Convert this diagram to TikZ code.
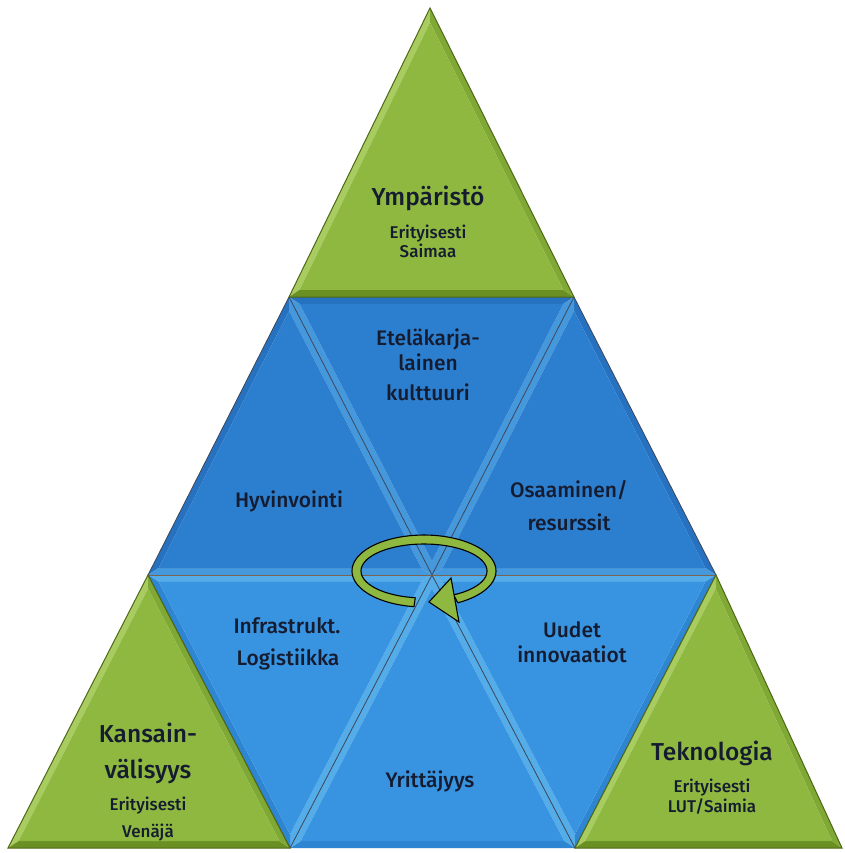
\documentclass[tikz,border=0pt]{standalone}
\usepackage{fontspec}
\setmainfont{Fira Sans}[UprightFont={* Medium}]
\usetikzlibrary{calc}
\definecolor{grn}{RGB}{142,184,64}
\definecolor{grnL}{RGB}{168,204,96}
\definecolor{grnM}{RGB}{128,168,52}
\definecolor{grnD}{RGB}{106,144,36}
\definecolor{grnO}{RGB}{78,104,22}
\definecolor{bluU}{RGB}{44,126,206}
\definecolor{bluUL}{RGB}{70,152,220}
\definecolor{bluUD}{RGB}{38,114,192}
\definecolor{bluL}{RGB}{56,148,224}
\definecolor{bluLL}{RGB}{84,172,232}
\definecolor{bluLD}{RGB}{46,134,210}
\definecolor{txt}{RGB}{22,28,48}
\definecolor{seamc}{RGB}{60,70,90}
\newcommand{\bevf}{0.1}
\newcommand{\bevtri}[7]{%
  \coordinate (bvG) at ($0.3333*(#1)+0.3333*(#2)+0.3334*(#3)$);
  \coordinate (bvA) at ($(#1)!\bevf!(bvG)$);
  \coordinate (bvB) at ($(#2)!\bevf!(bvG)$);
  \coordinate (bvC) at ($(#3)!\bevf!(bvG)$);
  \fill[#5] (#1)--(#2)--(bvB)--(bvA)--cycle;
  \fill[#6] (#2)--(#3)--(bvC)--(bvB)--cycle;
  \fill[#7] (#3)--(#1)--(bvA)--(bvC)--cycle;
  \fill[#4] (bvA)--(bvB)--(bvC)--cycle;
}
\tikzset{
  ttl/.style={text=txt, font=\fontsize{24.5}{26}\selectfont, anchor=base, inner sep=0pt},
  lab/.style={text=txt, font=\fontsize{21}{23}\selectfont, anchor=base, inner sep=0pt},
  sublab/.style={text=txt, font=\fontsize{17}{19}\selectfont, anchor=base, inner sep=0pt},
  seam/.style={draw=seamc, line width=0.8pt},
  gedge/.style={draw=grnO, line width=1pt, line join=miter},
}
\begin{document}
\begin{tikzpicture}[x=1pt,y=-1pt]
\useasboundingbox (0,0) rectangle (844,853);
\fill[white] (0,0) rectangle (844,853);
% key points
\coordinate (gt) at (430,8);
\coordinate (hTL) at (289,297);
\coordinate (hTR) at (574,297);
\coordinate (hL) at (148,575);
\coordinate (hR) at (716,575);
\coordinate (hBL) at (290,848);
\coordinate (hBR) at (575,848);
\coordinate (c) at (432,575);
\coordinate (glB) at (8,848);
\coordinate (grB) at (842,848);
% blue hexagon triangles
\renewcommand{\bevf}{0.075}
\bevtri{hTL}{hTR}{c}{bluU}{bluUD}{bluUL}{bluUL}
\bevtri{hL}{hTL}{c}{bluU}{bluUD}{bluUL}{bluUL}
\bevtri{hTR}{hR}{c}{bluU}{bluUD}{bluUL}{bluUL}
\bevtri{hL}{c}{hBL}{bluL}{bluLL}{bluLL}{bluLD}
\bevtri{c}{hR}{hBR}{bluL}{bluLL}{bluLD}{bluLL}
\bevtri{c}{hBR}{hBL}{bluL}{bluLL}{bluLD}{bluLL}
% seams
\draw[seam] (hTL)--(c) (hTR)--(c) (c)--(hBL) (c)--(hBR);
\draw[draw={rgb,255:red,120;green,100;blue,80}, line width=1pt] (hL)--(hR);
\draw[draw=seamc, line width=0.8pt] (hTL)--(hL)--(hBL) (hTR)--(hR)--(hBR);
% green triangles
\renewcommand{\bevf}{0.075}
\bevtri{gt}{hTL}{hTR}{grn}{grnL}{grnD}{grnM}
\bevtri{hL}{glB}{hBL}{grn}{grnL}{grnD}{grnM}
\bevtri{hR}{hBR}{grB}{grn}{grnL}{grnD}{grnM}
\draw[gedge] (gt)--(hTL)--(hTR)--cycle;
\draw[gedge] (hL)--(glB)--(hBL)--cycle;
\draw[gedge] (hR)--(hBR)--(grB)--cycle;
% circular arrow
\filldraw[fill=grn, draw=black, line width=1.1pt, line join=round]
  plot[domain=98:422, samples=80] ({424+72*cos(\x)},{571+36*sin(\x)})
  -- plot[domain=422:98, samples=80] ({424+63*cos(\x)},{571+27*sin(\x)}) -- cycle;
\coordinate (ah1) at (429,602);
\coordinate (ah2) at (451,578);
\coordinate (ah3) at (459,622);
\filldraw[fill=grn, draw=black, line width=1.1pt, line join=miter] (ah1)--(ah2)--(ah3)--cycle;
% labels
\node[ttl] (ymp) at (428,205) {Ympäristö};
\node[sublab] (ymp1) at (428,238) {Erityisesti};
\node[sublab] (ymp2) at (428,257) {Saimaa};
\node[lab] (ete1) at (428,345) {Eteläkarja-};
\node[lab] (ete2) at (428,370) {lainen};
\node[lab] (ete3) at (428,400) {kulttuuri};
\node[lab] (hyv) at (289,507) {Hyvinvointi};
\node[lab] (osa1) at (569,497) {Osaaminen/};
\node[lab] (osa2) at (569,530) {resurssit};
\node[lab] (inf1) at (287,633) {Infrastrukt.};
\node[lab] (inf2) at (288,665) {Logistiikka};
\node[lab] (uud1) at (572,637) {Uudet};
\node[lab] (uud2) at (572,662) {innovaatiot};
\node[lab] (yri) at (430,787) {Yrittäjyys};
\node[ttl] (kan1) at (148,742) {Kansain-};
\node[ttl] (kan2) at (148,778) {välisyys};
\node[sublab] (kan3) at (148,810) {Erityisesti};
\node[sublab] (kan4) at (148,837) {Venäjä};
\node[ttl] (tek1) at (712,760) {Teknologia};
\node[sublab] (tek2) at (712,792) {Erityisesti};
\node[sublab] (tek3) at (712,812) {LUT/Saimia};
\end{tikzpicture}
\end{document}
